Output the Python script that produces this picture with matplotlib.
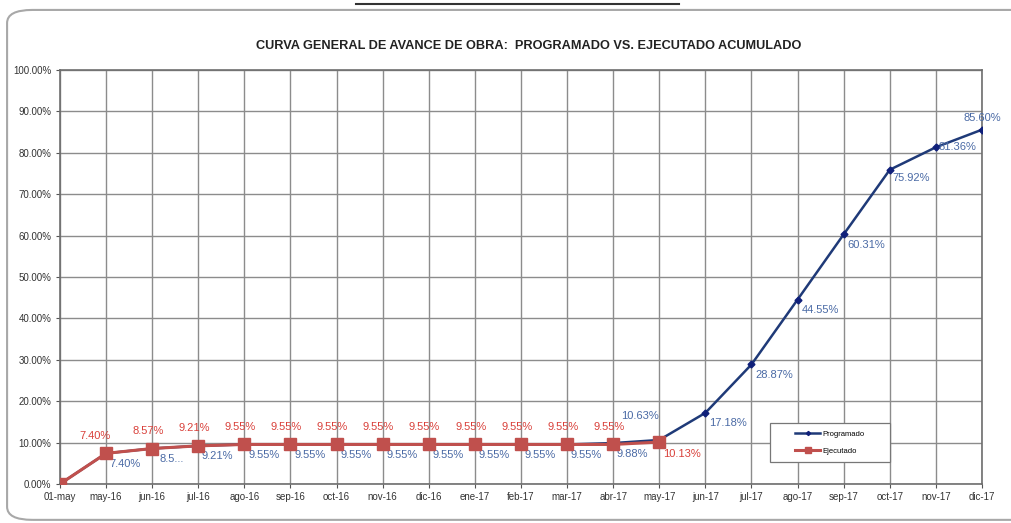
import matplotlib.pyplot as plt
from matplotlib.patches import FancyBboxPatch, Rectangle
import numpy as np

plt.rcParams['font.family'] = ['Liberation Sans', 'DejaVu Sans']

meses = ['01-may', 'may-16', 'jun-16', 'jul-16', 'ago-16', 'sep-16', 'oct-16',
         'nov-16', 'dic-16', 'ene-17', 'feb-17', 'mar-17', 'abr-17', 'may-17',
         'jun-17', 'jul-17', 'ago-17', 'sep-17', 'oct-17', 'nov-17', 'dic-17']
programado = [0.00, 7.40, 8.57, 9.21, 9.55, 9.55, 9.55, 9.55, 9.55, 9.55, 9.55,
              9.55, 9.88, 10.63, 17.18, 28.87, 44.55, 60.31, 75.92, 81.36, 85.60]
ejecutado = [0.00, 7.40, 8.57, 9.21, 9.55, 9.55, 9.55, 9.55, 9.55, 9.55, 9.55,
             9.55, 9.55, 10.13]
etq_prog = ['', '7.40%', '8.5...', '9.21%', '9.55%', '9.55%', '9.55%', '9.55%',
            '9.55%', '9.55%', '9.55%', '9.55%', '9.88%', '10.63%', '17.18%',
            '28.87%', '44.55%', '60.31%', '75.92%', '81.36%', '85.60%']

azul = '#1f3a78'
azul_txt = '#4a6aa5'
rojo = '#c0504d'
rojo_txt = '#d9403a'

fig = plt.figure(figsize=(10.11, 5.23), dpi=100)
ax = fig.add_axes([0.0593, 0.0746, 0.9120, 0.7914])

# marco redondeado del grafico (sale por la derecha)
marco = FancyBboxPatch((0.007, 0.006), 1.05, 0.975, boxstyle='round,pad=0,rounding_size=0.025',
                       transform=fig.transFigure, fill=False, ec='#a8a8a8', lw=1.5)
fig.patches.append(marco)
fig.add_artist(plt.Line2D([0.352, 0.672], [0.993, 0.993], transform=fig.transFigure,
                          color='#333333', lw=1.5))

x = np.arange(len(meses))
ax.plot(x, programado, color=azul, lw=1.8, marker='D', ms=3.5,
        mfc='#10207a', mec='#10207a', label='Programado', zorder=3)
ax.plot(x[:len(ejecutado)], ejecutado, color=rojo, lw=2.2, marker='s', ms=8,
        mfc=rojo, mec=rojo, label='Ejecutado', zorder=4)

for i, t in enumerate(etq_prog):
    if not t:
        continue
    if i == 13:
        ax.annotate(t, (x[i], programado[i]), xytext=(-14, 14), textcoords='offset points',
                    color=azul_txt, fontsize=8, ha='center', va='bottom')
    elif i == 20:
        ax.annotate(t, (x[i], programado[i]), xytext=(0, 5), textcoords='offset points',
                    color=azul_txt, fontsize=8, ha='center', va='bottom')
    elif i == 19:
        ax.annotate(t, (x[i], programado[i]), xytext=(2, 0), textcoords='offset points',
                    color=azul_txt, fontsize=8, ha='left', va='center')
    elif i == 18:
        ax.annotate(t, (x[i], programado[i]), xytext=(2, -2), textcoords='offset points',
                    color=azul_txt, fontsize=8, ha='left', va='top')
    else:
        dx = 3 if i >= 14 else 14
        ax.annotate(t, (x[i], programado[i]), xytext=(dx, -4), textcoords='offset points',
                    color=azul_txt, fontsize=8, ha='center' if i < 14 else 'left', va='top')

for i, v in enumerate(ejecutado):
    if i == 0:
        continue
    if i == 13:
        ax.annotate(f'{v:.2f}%', (x[i], v), xytext=(16, -5), textcoords='offset points',
                    color=rojo_txt, fontsize=8, ha='center', va='top')
    else:
        dx = -8 if i == 1 else -3
        ax.annotate(f'{v:.2f}%', (x[i], v), xytext=(dx, 9), textcoords='offset points',
                    color=rojo_txt, fontsize=8, ha='center', va='bottom')

ax.set_xlim(0, len(meses) - 1)
ax.set_ylim(0, 100)
ax.set_xticks(x)
ax.set_xticklabels(meses, fontsize=7, color='#333333')
ax.set_yticks(np.arange(0, 101, 10))
ax.set_yticklabels([f'{v:.2f}%' for v in range(0, 101, 10)], fontsize=7, color='#333333')
ax.tick_params(length=3, color='#555555', pad=3)
ax.grid(True, color='#8c8c8c', lw=1.0)
ax.set_axisbelow(True)
for s in ax.spines.values():
    s.set_color('#6e6e6e')
    s.set_linewidth(1.2)

# caja de la leyenda
caja = Rectangle((0.770, 0.053), 0.130, 0.094, transform=ax.transAxes,
                 fc='white', ec='#777777', lw=0.9, zorder=5)
ax.add_patch(caja)
leg = ax.legend(loc='center', bbox_to_anchor=(0.835, 0.100), fontsize=5.5,
                frameon=False, handlelength=3.2, handletextpad=0.3,
                labelspacing=1.3, markerscale=0.6)
leg.set_zorder(6)

fig.text(0.523, 0.912, 'CURVA GENERAL DE AVANCE DE OBRA:  PROGRAMADO VS. EJECUTADO ACUMULADO',
         ha='center', va='center', fontsize=9.2, fontweight='bold', color='#222222')

fig.savefig('out.png', dpi=100)
